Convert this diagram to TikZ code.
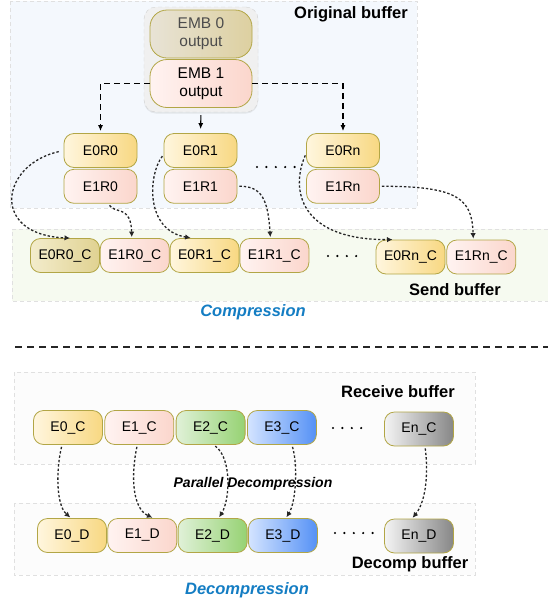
\documentclass[tikz,border=0pt]{standalone}
\usepackage{fontspec}
\setmainfont{Liberation Sans}
\usetikzlibrary{positioning, arrows.meta, shadows}

\definecolor{boxline}{RGB}{178,166,70}
\definecolor{yelL}{RGB}{255,246,222}
\definecolor{yelR}{RGB}{248,216,130}
\definecolor{pinkL}{RGB}{255,243,241}
\definecolor{pinkR}{RGB}{251,214,204}
\definecolor{oliveL}{RGB}{243,236,204}
\definecolor{oliveR}{RGB}{224,210,145}
\definecolor{tanL}{RGB}{232,227,214}
\definecolor{tanR}{RGB}{221,208,160}
\definecolor{greenL}{RGB}{224,241,216}
\definecolor{greenR}{RGB}{150,210,115}
\definecolor{blueL}{RGB}{212,228,255}
\definecolor{blueR}{RGB}{85,145,245}
\definecolor{grayL}{RGB}{244,244,244}
\definecolor{grayR}{RGB}{135,135,135}
\definecolor{origfill}{RGB}{244,248,253}
\definecolor{sendfill}{RGB}{246,250,240}
\definecolor{captionblue}{RGB}{20,125,195}

\begin{document}
\begin{tikzpicture}
	  [x=1pt, y=-1pt,
	  %
	  block/.style={rectangle, draw=boxline, line width=0.8pt, rounded corners=10pt, minimum width=69pt, minimum height=34pt, inner sep=0pt, font=\fontsize{14}{16}\selectfont},
	  %
	  embblock/.style={block, rounded corners=17pt, minimum width=102pt, minimum height=48pt, align=center, font=\fontsize{15.5}{18}\selectfont},
	  %
	  yel/.style={left color=yelL, right color=yelR},
	  pink/.style={left color=pinkL, right color=pinkR},
	  olive/.style={left color=oliveL, right color=oliveR},
	  grn/.style={left color=greenL, right color=greenR},
	  blu/.style={left color=blueL, right color=blueR},
	  gry/.style={left color=grayL, right color=grayR},
	  %
	  region/.style={draw=black!12, line width=0.6pt, dash pattern=on 4pt off 3pt},
	  title/.style={font=\fontsize{16.5}{18}\selectfont\bfseries},
	  caption/.style={font=\fontsize{16.5}{18}\selectfont\bfseries\itshape, text=captionblue},
	  %
	  dashline/.style={draw=black, line width=1.1pt, dash pattern=on 6pt off 4pt, shorten >=2pt, -{Latex[length=6pt, width=5pt]}},
	  %
	  dotline/.style={draw=black!85, line width=1.3pt, dash pattern=on 2.4pt off 2pt, shorten <=2pt, shorten >=1pt, -{Latex[length=5.5pt, width=5.5pt]}},
	  %
	  dotrow/.style={line width=2.4pt, line cap=round, dash pattern=on 0pt off 9.4pt}]

	    \useasboundingbox (0,0) rectangle (548,603);

	    % buffers
	    \draw [region, fill=origfill] (10,1) rectangle (417,208);
	    \fill [sendfill] (12,229) rectangle (548,301);
	    \draw [region] (548,229) -- (12,229) -- (12,301) -- (548,301);
	    \draw [region, fill=black!1] (14,372) rectangle (475,464);
	    \draw [region, fill=black!1] (14,503) rectangle (475,575);

	    \node [title] (orig) at (351,14) {Original buffer};
	    \node [title] (send) at (455,290) {Send buffer};
	    \node [title] (recv) at (398,392) {Receive buffer};
	    \node [title] (decomp) at (410,564) {Decomp buffer};

	    % embedding outputs
	    \node [rectangle, rounded corners=12pt, draw=black!18, dash pattern=on 4pt off 3pt, fill=black!6, minimum width=114pt, minimum height=105pt, drop shadow={shadow xshift=0pt, shadow yshift=-1.5pt, opacity=0.15}] (emb) at (201,59.5) {};
	    \node [embblock, left color=tanL, right color=tanR, text=black!70] (emb0) at (201,34) {EMB 0\\output};
	    \node [embblock, pink] (emb1) at (201,83.5) {EMB 1\\output};

	    \node [block, yel, minimum width=73pt] (e0r0) at (100.5,150.5) {E0R0};
	    \node [block, pink, minimum width=73pt, below=1pt of e0r0] (e1r0) {E1R0};
	    \node [block, yel, minimum width=73pt] (e0r1) at (200.5,150.5) {E0R1};
	    \node [block, pink, minimum width=73pt, below=1pt of e0r1] (e1r1) {E1R1};
	    \node [block, yel, minimum width=73pt] (e0rn) at (343,150.5) {E0Rn};
	    \node [block, pink, minimum width=73pt, below=1pt of e0rn] (e1rn) {E1Rn};

	    \node [block, olive] (e0r0c) at (65,255.5) {E0R0\_C};
	    \node [block, pink, right=0pt of e0r0c] (e1r0c) {E1R0\_C};
	    \node [block, yel, right=0pt of e1r0c] (e0r1c) {E0R1\_C};
	    \node [block, pink, right=0pt of e0r1c] (e1r1c) {E1R1\_C};
	    \node [block, yel] (e0rnc) at (410.5,257) {E0Rn\_C};
	    \node [block, pink, right=1pt of e0rnc] (e1rnc) {E1Rn\_C};

	    \draw [dotrow] (257,167) -- (295,167);
	    \draw [dotrow] (328,256) -- (365,256);

	    \draw [dashline] (emb1.west) -| (e0r0.north);
	    \draw [dashline] (emb1.east) -| (e0rn.north);
	    \draw [dashline, solid, shorten <=3pt, shorten >=4pt] (emb.south) -- (e0r1.north);

	    \draw [dotline, shorten <=5pt] (e0r0.west) .. controls (0,165) and (-10,235) .. ([xshift=6pt]e0r0c.north);
	    \draw [dotline] ([xshift=8pt]e1r0.south) .. controls (115,214) and (131,205) .. ([xshift=-3pt]e1r0c.north);
	    \draw [dotline] ([yshift=-4pt]e0r1.west) .. controls (148,175) and (145,230) .. ([xshift=-13pt]e0r1c.north);
	    \draw [dotline] (e1r1.east) .. controls (262,186) and (268,200) .. ([xshift=-4pt]e1r1c.north);
	    \draw [dotline] ([yshift=-3pt]e0rn.west) .. controls (290,190) and (300,240) .. ([xshift=-17pt]e0rnc.north);
	    \draw [dotline] (e1rn.east) .. controls (460,186) and (472,200) .. ([xshift=-8pt]e1rnc.north);

	    \node [caption] (comp) at (253,312) {Compression};

	    \draw [black!85, line width=1.2pt, dash pattern=on 7pt off 5pt] (15,347) -- (548,347);

	    % receive / decompress
	    \node [block, yel] (c0) at (68,427.5) {E0\_C};
	    \node [block, pink, right=1.5pt of c0] (c1) {E1\_C};
	    \node [block, grn, right=1.5pt of c1] (c2) {E2\_C};
	    \node [block, blu, right=1.5pt of c2] (c3) {E3\_C};
	    \node [block, gry] (cn) at (419,429) {En\_C};

	    \node [block, yel] (d0) at (72,535.5) {E0\_D};
	    \node [block, pink, right=0.5pt of d0] (d1) {E1\_D};
	    \node [block, grn, right=0.5pt of d1] (d2) {E2\_D};
	    \node [block, blu, right=0.5pt of d2] (d3) {E3\_D};
	    \node [block, gry] (dn) at (419,536) {En\_D};

	    \draw [dotrow] (333,428) -- (370,428);
	    \draw [dotrow] (335,533) -- (373,533);

	    \draw [dotline] ([xshift=-6pt]c0.south) .. controls (56,470) and (56,505) .. ([xshift=-1pt]d0.north);
	    \draw [dotline] ([xshift=-2pt]c1.south) .. controls (131,475) and (132,508) .. ([xshift=11pt]d1.north);
	    \draw [dotline] ([xshift=3pt]c2.south) .. controls (232,458) and (230,500) .. ([xshift=6pt]d2.north);
	    \draw [dotline] ([xshift=10pt]c3.south) .. controls (298,465) and (296,502) .. ([xshift=3pt]d3.north);
	    \draw [dotline] ([xshift=6pt]cn.south) .. controls (428,470) and (427,500) .. ([xshift=-7pt]dn.north);

	    \node [font=\fontsize{14}{16}\selectfont\bfseries\itshape] (par) at (253,484) {Parallel Decompression};
	    \node [caption] (decomptitle) at (247,590) {Decompression};
	  \end{tikzpicture}
\end{document}
